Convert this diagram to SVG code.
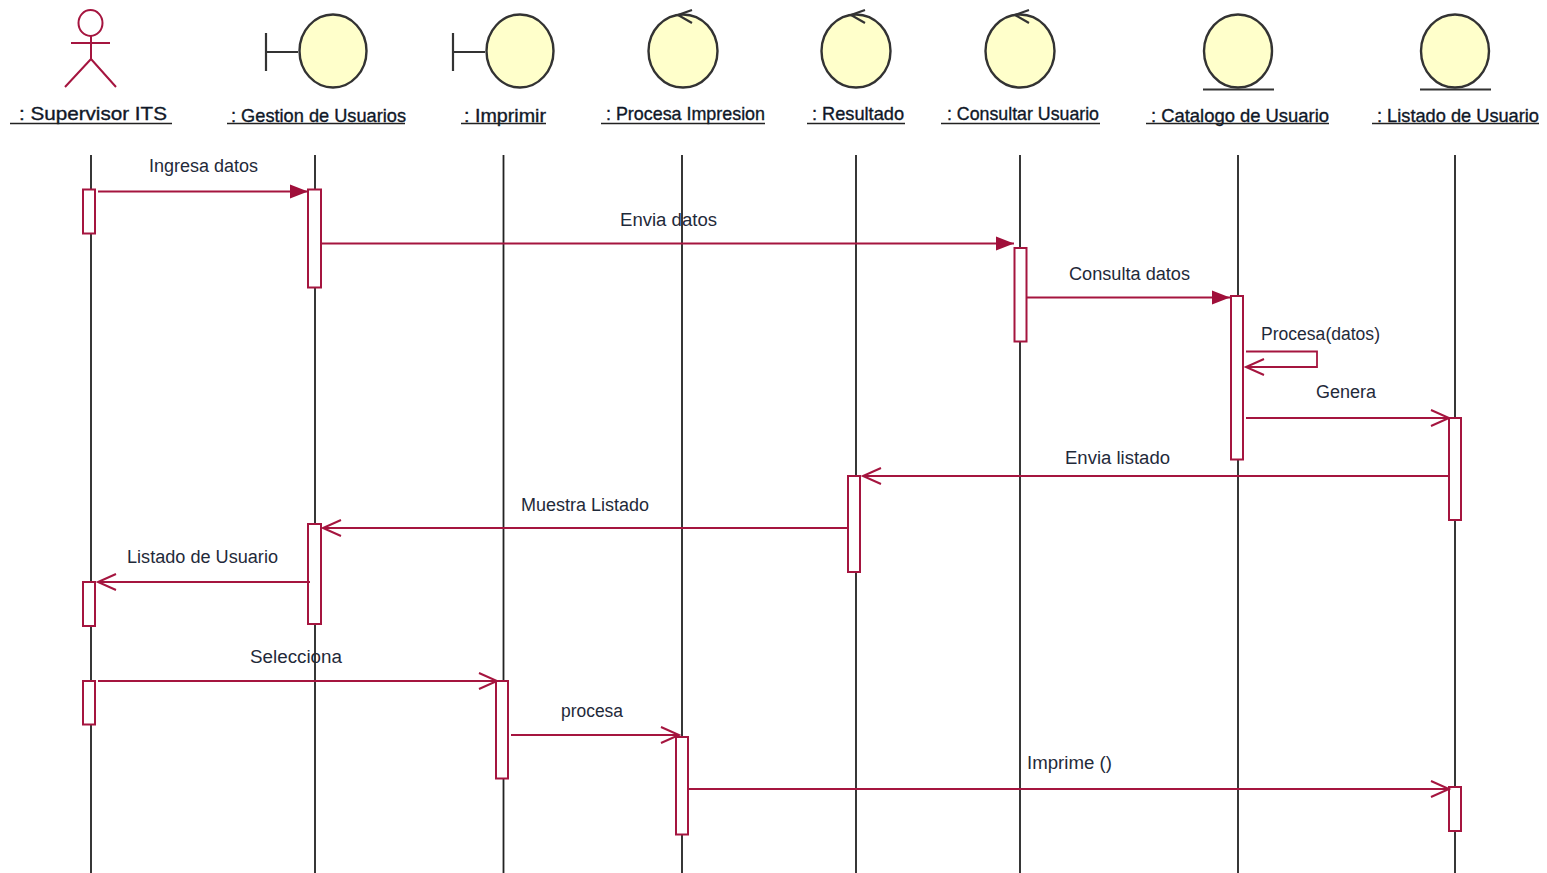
<svg xmlns="http://www.w3.org/2000/svg" width="1547" height="873" viewBox="0 0 1547 873">
<style>
text{font-family:"Liberation Sans",Arial,sans-serif;font-size:18px;fill:#1f2a3a}
.t{font-size:18.5px;fill:#101828;stroke:#101828;stroke-width:.35}
.u{stroke:#222;stroke-width:1.4;fill:none}
.life{stroke:#222;stroke-width:1.8;fill:none}
.obj{fill:#ffffcb;stroke:#333;stroke-width:2.4}
.g{stroke:#333;stroke-width:2.2;fill:none}
.act{fill:#fff;stroke:#a5153f;stroke-width:2}
.m{stroke:#a5153f;stroke-width:1.8;fill:none}
.actor{stroke:#a5153f;stroke-width:2;fill:none}
</style>
<defs>
<marker id="solid" markerUnits="userSpaceOnUse" markerWidth="20" markerHeight="16" refX="18" refY="8" orient="auto"><path d="M0,1 L18,8 L0,15 Z" fill="#a00f3a"/></marker>
<marker id="open" markerUnits="userSpaceOnUse" markerWidth="22" markerHeight="20" refX="19" refY="10" orient="auto"><path d="M1,2 L19,10 L1,18" fill="none" stroke="#a5153f" stroke-width="2"/></marker>
</defs>

<g id="lifelines">
<path class="life" d="M91,155V873M315,155V873M503.500,155V873M682,155V873M856,155V873M1020,155V873M1238,155V873M1455,155V873"/>
</g>

<g id="node-supervisor">
<ellipse class="actor" cx="90.500" cy="23" rx="12" ry="13"/>
<path class="actor" d="M91,36V59M71,43H110M91,59L65,87M91,59L116,87"/>
<text class="t" x="19" y="120" textLength="148" lengthAdjust="spacingAndGlyphs">: Supervisor ITS</text>
<path class="u" d="M10,123.500H172"/>
</g>
<g id="node-gestion">
<path class="g" d="M266,33V71M266,52H298"/>
<ellipse class="obj" cx="333" cy="51" rx="33.500" ry="36.500"/>
<text class="t" x="231" y="122" textLength="175" lengthAdjust="spacingAndGlyphs">: Gestion de Usuarios</text>
<path class="u" d="M227,123.500H405"/>
</g>
<g id="node-imprimir">
<path class="g" d="M453,33V71M453,52H485"/>
<ellipse class="obj" cx="520" cy="51" rx="33.500" ry="36.500"/>
<text class="t" x="464" y="122" textLength="82" lengthAdjust="spacingAndGlyphs">: Imprimir</text>
<path class="u" d="M461,123.500H546"/>
</g>
<g id="node-procesa">
<ellipse class="obj" cx="683" cy="51" rx="34.500" ry="36.500"/>
<path class="g" d="M692,10L678,15L692,23"/>
<text class="t" x="606" y="120" textLength="159" lengthAdjust="spacingAndGlyphs">: Procesa Impresion</text>
<path class="u" d="M601,123.500H765"/>
</g>
<g id="node-resultado">
<ellipse class="obj" cx="856" cy="51" rx="34.500" ry="36.500"/>
<path class="g" d="M865,10L851,15L865,23"/>
<text class="t" x="812" y="120" textLength="92" lengthAdjust="spacingAndGlyphs">: Resultado</text>
<path class="u" d="M807,123.500H905"/>
</g>
<g id="node-consultar">
<ellipse class="obj" cx="1020" cy="51" rx="34.500" ry="36.500"/>
<path class="g" d="M1029,10L1015,15L1029,23"/>
<text class="t" x="947" y="120" textLength="152" lengthAdjust="spacingAndGlyphs">: Consultar Usuario</text>
<path class="u" d="M941,123.500H1100"/>
</g>
<g id="node-catalogo">
<ellipse class="obj" cx="1238" cy="51" rx="34" ry="36.500"/>
<path class="g" d="M1203,89.500H1274"/>
<text class="t" x="1151" y="122" textLength="178" lengthAdjust="spacingAndGlyphs">: Catalogo de Usuario</text>
<path class="u" d="M1146,123.500H1329"/>
</g>
<g id="node-listado">
<ellipse class="obj" cx="1455" cy="51" rx="34" ry="36.500"/>
<path class="g" d="M1420,89.500H1491"/>
<text class="t" x="1377" y="122" textLength="162" lengthAdjust="spacingAndGlyphs">: Listado de Usuario</text>
<path class="u" d="M1372,123.500H1539"/>
</g>

<g id="activations">
<rect class="act" x="83" y="189.500" width="12" height="44"/>
<rect class="act" x="308" y="189.500" width="13" height="98"/>
<rect class="act" x="1014.500" y="248" width="12" height="93.500"/>
<rect class="act" x="1231" y="296" width="12" height="163.500"/>
<rect class="act" x="1449" y="418" width="12" height="102"/>
<rect class="act" x="848" y="476" width="12" height="96"/>
<rect class="act" x="308" y="524" width="13" height="100"/>
<rect class="act" x="83" y="582" width="12" height="44"/>
<rect class="act" x="83" y="681" width="12" height="43.500"/>
<rect class="act" x="496" y="681" width="12" height="97.500"/>
<rect class="act" x="676" y="737" width="12" height="97.500"/>
<rect class="act" x="1449" y="787" width="12" height="44"/>
</g>

<g id="connectors">
<path class="m" d="M98,191.500H308" marker-end="url(#solid)"/>
<path class="m" d="M322,243.500H1014" marker-end="url(#solid)"/>
<path class="m" d="M1027,297.500H1230" marker-end="url(#solid)"/>
<path class="m" d="M1246,351.500H1317V367H1246" marker-end="url(#open)"/>
<path class="m" d="M1246,418H1449" marker-end="url(#open)"/>
<path class="m" d="M1449,476H863" marker-end="url(#open)"/>
<path class="m" d="M848,528H323" marker-end="url(#open)"/>
<path class="m" d="M310,582H98" marker-end="url(#open)"/>
<path class="m" d="M98,681H497" marker-end="url(#open)"/>
<path class="m" d="M511,735H679" marker-end="url(#open)"/>
<path class="m" d="M688,789H1449" marker-end="url(#open)"/>
</g>

<g id="labels">
<text x="149" y="172" textLength="109" lengthAdjust="spacingAndGlyphs">Ingresa datos</text>
<text x="620" y="226" textLength="97" lengthAdjust="spacingAndGlyphs">Envia datos</text>
<text x="1069" y="280" textLength="121" lengthAdjust="spacingAndGlyphs">Consulta datos</text>
<text x="1261" y="340" textLength="119" lengthAdjust="spacingAndGlyphs">Procesa(datos)</text>
<text x="1316" y="398" textLength="60" lengthAdjust="spacingAndGlyphs">Genera</text>
<text x="1065" y="464" textLength="105" lengthAdjust="spacingAndGlyphs">Envia listado</text>
<text x="521" y="511" textLength="128" lengthAdjust="spacingAndGlyphs">Muestra Listado</text>
<text x="127" y="563" textLength="151" lengthAdjust="spacingAndGlyphs">Listado de Usuario</text>
<text x="250" y="663" textLength="92" lengthAdjust="spacingAndGlyphs">Selecciona</text>
<text x="561" y="717" textLength="62" lengthAdjust="spacingAndGlyphs">procesa</text>
<text x="1027" y="769" textLength="85" lengthAdjust="spacingAndGlyphs">Imprime ()</text>
</g>
</svg>
